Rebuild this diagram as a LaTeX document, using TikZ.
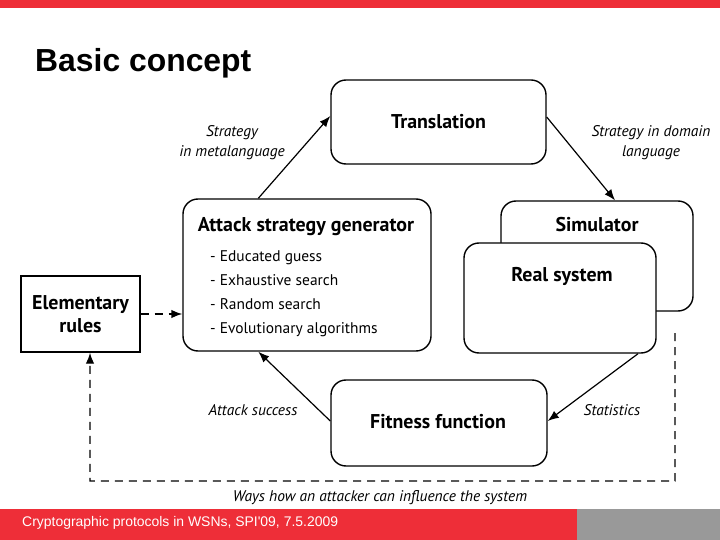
\documentclass[tikz,border=0pt]{standalone}
\usepackage{fontspec}
\setmainfont{PT Sans}
\newfontfamily\arialfont{Liberation Sans}
\usetikzlibrary{arrows.meta}
\definecolor{slidered}{RGB}{238,46,56}
\definecolor{slidegray}{RGB}{153,153,153}
\tikzset{
  rbox/.style={draw, line width=1.4bp, rounded corners=15bp, fill=white, inner sep=0pt},
  sqbox/.style={draw, line width=1.4bp, fill=white, inner sep=0pt},
  boxtitle/.style={font=\fontsize{20}{23}\selectfont\bfseries, inner sep=0pt},
  itemtext/.style={font=\fontsize{15.5}{18}\selectfont, anchor=base west, inner sep=0pt},
  edgelabel/.style={font=\fontsize{15.5}{20}\selectfont\itshape, align=center, inner sep=0pt},
  flow/.style={line width=1.2bp, -{Latex[length=11bp,width=8.5bp]}},
  dashflow/.style={line width=1.4bp, dash pattern=on 8bp off 6bp, -{Latex[length=11bp,width=8.5bp]}}
}
\begin{document}
\begin{tikzpicture}[x=1bp,y=-1bp]
\useasboundingbox (0,0) rectangle (720,540);
% slide decoration
\fill[slidered] (0,0) rectangle (720,8);
\fill[slidered] (0,509) rectangle (577,540);
\fill[slidegray] (577,509) rectangle (720,540);
\node[anchor=west, inner sep=0pt, font=\arialfont\fontsize{32}{36}\selectfont\bfseries] (title) at (35,63) {Basic concept};
\node[anchor=west, inner sep=0pt, text=white, font=\arialfont\fontsize{14}{16}\selectfont] (footer) at (22,523) {Cryptographic protocols in WSNs, SPI'09, 7.5.2009};

% boxes
\node[rbox, minimum width=215bp, minimum height=84bp] (trans) at (438.5,122) {};
\node[boxtitle] (transt) at (438.5,122) {Translation};

\node[rbox, minimum width=248bp, minimum height=152bp] (asg) at (307,275) {};
\node[boxtitle] (asgt) at (306,227) {Attack strategy generator};
\node[itemtext] (i1) at (210,262) {- Educated guess};
\node[itemtext] (i2) at (210,286) {- Exhaustive search};
\node[itemtext] (i3) at (210,309) {- Random search};
\node[itemtext] (i4) at (210,333) {- Evolutionary algorithms};

\node[rbox, minimum width=192bp, minimum height=110bp] (sim) at (597,256) {};
\node[boxtitle] (simt) at (597,225) {Simulator};
\node[rbox, minimum width=192bp, minimum height=110bp] (real) at (560,298) {};
\node[boxtitle] (realt) at (562,276) {Real system};

\node[rbox, minimum width=216bp, minimum height=86bp] (fit) at (439,423) {};
\node[boxtitle] (fitt) at (438,422) {Fitness function};

\node[sqbox, minimum width=119bp, minimum height=76bp, align=center, font=\fontsize{20}{23}\selectfont\bfseries] (elem) at (80.5,314) {Elementary\\rules};

% connectors
\draw[flow] ([xshift=76bp]asg.north west) -- ([yshift=6bp]trans.west);
\draw[flow] ([yshift=5bp]trans.east) -- ([xshift=18bp]sim.north);
\draw[flow] ([xshift=78bp]real.south) -- ([yshift=2bp]fit.east);
\draw[flow] ([yshift=2bp]fit.west) -- ([xshift=76bp]asg.south west);
\draw[dashflow] (elem.east) -- (elem.east -| asg.west);
\coordinate (dstart) at (675,333);
\draw[dashflow] (dstart) |- (90,481) -- ([xshift=9.5bp]elem.south);

% labels
\node[edgelabel] (l1) at (232,143) {Strategy\\in metalanguage};
\node[edgelabel] (l2) at (651,143) {Strategy in domain\\language};
\node[edgelabel] (l3) at (253,410) {Attack success};
\node[edgelabel] (l4) at (612,410) {Statistics};
\node[edgelabel] (l5) at (380,498) {Ways how an attacker can influence the system};
\end{tikzpicture}
\end{document}
